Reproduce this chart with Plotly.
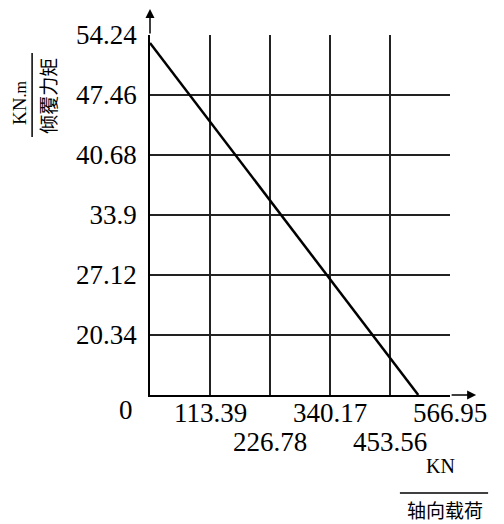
import plotly.graph_objects as go

# axial load (KN) vs tipping moment (KN.m)
axial_load = [0, 507]
tipping_moment = [53.34, 13.56]

x_ticks = [113.39, 226.78, 340.17, 453.56, 566.95]
y_ticks = [20.34, 27.12, 33.9, 40.68, 47.46, 54.24]
y_tick_text = ["20.34", "27.12", "33.9", "40.68", "47.46", "54.24"]

NUM_FONT = "Liberation Serif, serif"
CJK_FONT = "Noto Sans CJK SC"


def main():
    fig = go.Figure()

    fig.add_trace(go.Scatter(
        x=axial_load,
        y=tipping_moment,
        mode="lines",
        line=dict(color="black", width=2.5),
        hoverinfo="skip",
        showlegend=False,
    ))

    fig.update_xaxes(
        range=[0, 566.95],
        tickvals=x_ticks,
        showticklabels=False,
        showgrid=True,
        gridcolor="#222",
        gridwidth=1.5,
        showline=True,
        linecolor="black",
        linewidth=1.5,
        zeroline=False,
        ticks="",
    )
    fig.update_yaxes(
        range=[13.56, 54.24],
        tickvals=y_ticks,
        ticktext=y_tick_text,
        tickfont=dict(family=NUM_FONT, size=27, color="black"),
        ticklabelstandoff=6,
        showgrid=True,
        gridcolor="#222",
        gridwidth=1.5,
        showline=True,
        linecolor="black",
        linewidth=1.5,
        zeroline=False,
        ticks="",
    )

    annotations = []
    # x tick labels, staggered in two rows
    for i, v in enumerate(x_ticks):
        annotations.append(dict(
            x=v, xref="x", y=-0.05 if i % 2 == 0 else -0.13, yref="paper",
            text=f"{v:.2f}", showarrow=False,
            font=dict(family=NUM_FONT, size=27, color="black"),
            xanchor="center", yanchor="middle",
        ))
    # origin label
    annotations.append(dict(
        x=-0.08, xref="paper", y=-0.042, yref="paper", text="0", showarrow=False,
        font=dict(family=NUM_FONT, size=27, color="black"),
        xanchor="center", yanchor="middle",
    ))
    # y axis title (stacked fraction style, rotated)
    annotations.append(dict(
        x=-0.435, xref="paper", y=0.81, yref="paper",
        text="KN<span style='font-size:16px'>.m</span>", showarrow=False,
        textangle=-90, font=dict(family=NUM_FONT, size=19, color="black"),
        xanchor="center", yanchor="middle",
    ))
    annotations.append(dict(
        x=-0.34, xref="paper", y=0.831, yref="paper", text="倾覆力矩", showarrow=False,
        textangle=-90, font=dict(family=CJK_FONT, size=19, color="black"),
        xanchor="center", yanchor="middle",
    ))
    # x axis title
    annotations.append(dict(
        x=0.967, xref="paper", y=-0.197, yref="paper", text="KN", showarrow=False,
        font=dict(family=NUM_FONT, size=20, color="black"),
        xanchor="center", yanchor="middle",
    ))
    annotations.append(dict(
        x=0.983, xref="paper", y=-0.319, yref="paper", text="轴向载荷", showarrow=False,
        font=dict(family=CJK_FONT, size=19, color="black"),
        xanchor="center", yanchor="middle",
    ))
    # axis arrows
    annotations.append(dict(
        x=0, xref="paper", y=1.092, yref="paper", ax=0, ay=33,
        showarrow=True, arrowhead=2, arrowsize=1.2, arrowwidth=1.5, arrowcolor="black", text="",
    ))
    annotations.append(dict(
        x=1.087, xref="paper", y=0, yref="paper", ax=-26, ay=0,
        showarrow=True, arrowhead=2, arrowsize=1.2, arrowwidth=1.5, arrowcolor="black", text="",
    ))

    shapes = [
        dict(type="line", xref="paper", yref="paper", x0=-0.393, x1=-0.393, y0=0.717, y1=0.95,
             line=dict(color="black", width=1.5)),
        dict(type="line", xref="paper", yref="paper", x0=0.833, x1=1.127, y0=-0.272, y1=-0.272,
             line=dict(color="black", width=1.5)),
    ]

    # page body adds an 8px offset, so the figure is 8px smaller than the window
    fig.update_layout(
        width=496,
        height=516,
        margin=dict(l=142, r=54, t=27, b=129),
        paper_bgcolor="white",
        plot_bgcolor="white",
        annotations=annotations,
        shapes=shapes,
        showlegend=False,
    )

    fig.write_html("out.html")


if __name__ == '__main__':
    main()
